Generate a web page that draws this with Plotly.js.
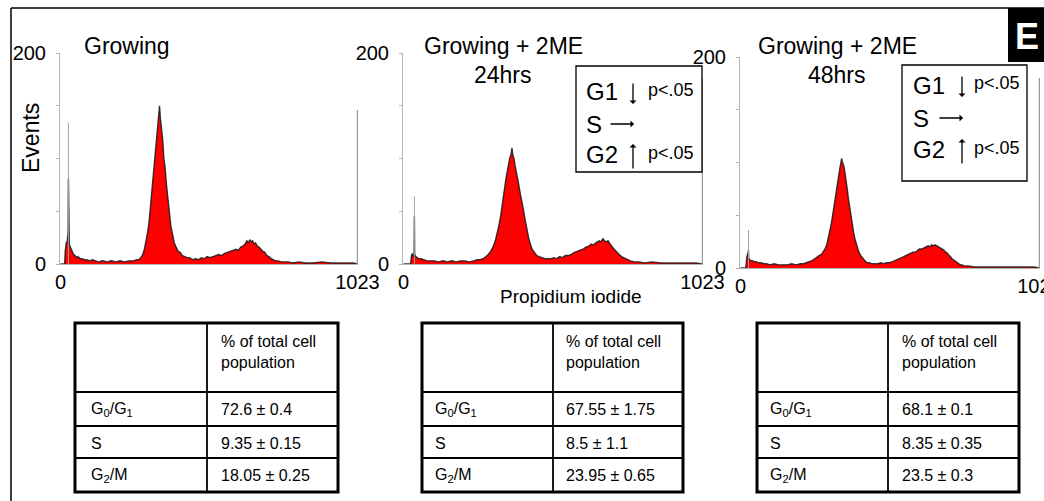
<!DOCTYPE html>
<html>
<head>
<meta charset="utf-8">
<script src="https://cdn.plot.ly/plotly-3.0.1.min.js"></script>
<style>html,body{margin:0;padding:0;background:#fff;}#chart{width:1044px;height:501px;}</style>
</head>
<body>
<div id="chart"></div>
<script>
// ---------------- DATA ----------------
// Panel 1: Growing (channel, events)
const growingChannels = [0,14,16,18,20,22,24,26,27,28,30,32,36,40,45,50,55,60,68,75,83,90,100,110,120,130,145,160,175,190,205,220,235,250,262,270,276,282,288,294,300,305,310,315,320,325,330,334,338,341,344,348,352,356,360,365,370,375,380,386,392,398,405,412,420,428,436,445,455,465,475,485,495,505,515,525,535,545,555,565,575,585,595,605,613,621,629,636,642,647,652,657,662,667,672,678,684,690,697,704,711,718,726,734,742,750,760,772,785,800,820,845,870,900,930,960,990,1010,1023];
const growingEvents   = [0,0,12,17,21,19,23,30,81,26,19,17,14,11,9,8,6,7,5,5,4,4,3,4,3,2,3,2,3,2,3,2,3,3,4,4,6,8,13,20,30,40,55,68,82,95,112,125,140,150,138,128,118,100,92,75,60,48,36,28,20,16,12,11,8,7,6,6,4,5,4,6,5,7,6,7,8,9,8,10,11,12,13,14,13,16,17,19,22,20,23,21,22,19,20,17,16,14,12,11,8,7,5,4,3,3,2,2,2,1,2,1,1,2,1,1,1,1,0];
// Panel 2: Growing + 2ME 24hrs
const me24Channels = [0,24,27,30,33,36,37,38,42,46,52,60,70,80,90,105,120,135,150,165,180,195,210,225,240,252,262,272,282,290,298,306,314,320,326,332,338,344,350,355,360,364,368,371,374,378,382,386,390,395,400,405,410,416,422,428,434,440,448,456,464,474,484,494,504,514,524,534,544,554,564,574,584,594,604,614,624,634,642,650,658,664,670,676,682,688,694,700,706,712,718,724,730,738,746,754,764,776,790,805,825,850,880,910,940,970,1000,1023];
const me24Events   = [0,0,8,10,7,9,45,9,7,6,5,5,4,3,3,3,2,3,2,3,2,3,3,2,3,4,4,5,7,9,12,16,22,28,36,45,58,70,80,88,96,101,104,110,103,100,93,88,80,74,66,60,52,42,33,25,19,14,11,8,7,6,5,5,5,6,5,7,6,8,8,9,11,12,13,14,16,17,19,18,20,21,22,21,24,22,21,22,19,17,15,13,11,9,7,6,4,3,2,2,1,2,1,1,1,1,1,0];
// Panel 3: Growing + 2ME 48hrs
const me48Channels = [0,18,21,24,26,27,28,31,35,40,46,52,60,70,80,90,100,115,130,145,160,175,190,205,215,225,235,245,255,263,270,277,283,289,295,300,305,310,314,318,322,326,330,334,337,340,343,346,348,351,354,357,360,363,366,369,372,376,380,384,388,392,396,400,405,411,418,425,433,441,450,460,470,480,490,500,510,520,530,538,546,553,560,568,575,582,590,598,605,612,620,628,635,642,648,654,660,666,672,678,684,690,696,702,708,713,718,723,728,734,740,746,752,758,765,780,800,830,860,890,920,950,980,1005,1023];
const me48Events   = [0,0,10,12,15,17,9,8,7,7,6,6,5,5,4,4,3,4,3,3,3,4,3,4,4,5,6,7,9,11,12,13,15,18,22,28,34,41,48,56,64,71,78,85,90,95,99,104,101,99,96,91,86,80,73,66,60,52,44,37,32,27,23,19,15,12,9,7,5,5,4,4,4,5,4,5,5,6,7,8,9,10,11,12,13,14,15,15,17,18,18,19,20,21,20,22,21,22,21,20,19,18,17,15,14,12,11,9,8,6,5,4,3,3,2,2,1,1,1,1,1,1,1,1,0];

// Gray debris spikes [channel, events] and end-channel (1023) pile-up events
const debrisSpikes = [[27,134],[37,64],[27,36]];
const endSpikeEvents = [146,176,180];

// Tick labels
const xTickVals = [0,1023];
const xTickText = ['0','1023'];
const yTickVals = [0,50,100,150,200];
const yTickText = ['0','','','','200'];

// Titles
const panelTitles = [['Growing'],['Growing + 2ME','24hrs'],['Growing + 2ME','48hrs']];

// Tables
const phaseLabels = ['G<sub>0</sub>/G<sub>1</sub>','S','G<sub>2</sub>/M'];
const tableHeader = '% of total cell<br>population';
const growingValues = ['72.6 ± 0.4','9.35 ± 0.15','18.05 ± 0.25'];
const me24Values = ['67.55 ± 1.75','8.5 ± 1.1','23.95 ± 0.65'];
const me48Values = ['68.1 ± 0.1','8.35 ± 0.35','23.5 ± 0.3'];

// Change boxes: phase, direction (down / flat / up), significance
const changePhase = ['G1', 'S', 'G2'];
const changeDir = ['down', 'flat', 'up'];
const changeP = ['p&lt;.05', '', 'p&lt;.05'];

// ---------------- LAYOUT HELPERS ----------------
const W = 1044, H = 501;
const FONT = 'Liberation Sans, Arial, Helvetica, sans-serif';
const px = v => v / W;
const py = v => 1 - v / H;

const panels = [
  {ch: growingChannels, ev: growingEvents, xd:[60,358], yd:[264,53]},
  {ch: me24Channels, ev: me24Events, xd:[403,703], yd:[264,53]},
  {ch: me48Channels, ev: me48Events, xd:[740,1040], yd:[268,57]}
];

const traces = [];
const layout = {
  width: W, height: H,
  margin: {l:0, r:0, t:0, b:0},
  paper_bgcolor: '#fff', plot_bgcolor: 'rgba(0,0,0,0)',
  showlegend: false,
  font: {family: FONT, color: '#000'},
  shapes: [], annotations: []
};

panels.forEach((p, i) => {
  const n = i + 1;
  const xa = n === 1 ? 'x' : 'x' + n;
  const ya = n === 1 ? 'y' : 'y' + n;
  traces.push({
    type: 'scatter', mode: 'lines', x: p.ch, y: p.ev, xaxis: xa, yaxis: ya,
    fill: 'tozeroy', fillcolor: '#ff0000',
    line: {color: 'rgba(25,25,25,0.85)', width: 1.4}, hoverinfo: 'skip'
  });
  traces.push({
    type: 'scatter', mode: 'lines', x: [debrisSpikes[i][0], debrisSpikes[i][0]], y: [0, debrisSpikes[i][1]],
    xaxis: xa, yaxis: ya, line: {color: '#a0a0a0', width: 1}, hoverinfo: 'skip'
  });
  traces.push({
    type: 'scatter', mode: 'lines', x: [1023, 1023], y: [0, endSpikeEvents[i]],
    xaxis: xa, yaxis: ya, line: {color: '#9a9a9a', width: 1.3}, hoverinfo: 'skip'
  });
  const axKey = n === 1 ? '' : String(n);
  layout['xaxis' + axKey] = {
    domain: [px(p.xd[0]), px(p.xd[1])], anchor: ya, range: [-2, 1025],
    showline: true, linecolor: '#b5b5b5', linewidth: 1, mirror: false,
    showgrid: false, zeroline: false, ticks: '', ticklabeloverflow: 'allow',
    tickvals: xTickVals, ticktext: xTickText, tickangle: 0,
    tickfont: {size: 20, family: FONT, color: '#000'}, fixedrange: true
  };
  layout['yaxis' + axKey] = {
    domain: [py(p.yd[0]), py(p.yd[1])], anchor: xa, range: [0, 200],
    showline: true, linecolor: '#b5b5b5', linewidth: 1,
    showgrid: false, zeroline: false, ticks: 'outside', ticklen: 3, tickcolor: '#b5b5b5',
    tickvals: yTickVals, ticktext: yTickText, ticklabelstandoff: 6, ticklabeloverflow: 'allow',
    tickfont: {size: 20, family: FONT, color: '#000'}, fixedrange: true
  };
});

// Panel titles
const titlePos = [
  {x: 82, y: [46], anchor: 'left'},
  {x: 503, y: [46, 75], anchor: 'center'},
  {x: 837, y: [46, 75], anchor: 'center'}
];
panelTitles.forEach((lines, i) => {
  lines.forEach((t, j) => {
    layout.annotations.push({
      xref: 'paper', yref: 'paper', x: px(titlePos[i].x), y: py(titlePos[i].y[j]),
      xanchor: titlePos[i].anchor, yanchor: 'middle', text: t, showarrow: false,
      font: {size: 23, family: FONT, color: '#000'}
    });
  });
});

// Axis titles
layout.annotations.push({
  xref: 'paper', yref: 'paper', x: px(31), y: py(138), text: 'Events', textangle: -90,
  showarrow: false, xanchor: 'center', yanchor: 'middle', font: {size: 23, family: FONT}
});
layout.annotations.push({
  xref: 'paper', yref: 'paper', x: px(571), y: py(296), text: 'Propidium iodide',
  showarrow: false, xanchor: 'center', yanchor: 'middle', font: {size: 19, family: FONT}
});

// Change boxes (panels 2 and 3)
const boxes = [
  {x0: 576, x1: 702, y0: 66, y1: 172, tx: 584, ty: [92, 124, 155], ax: 633, pxs: 646},
  {x0: 902, x1: 1027, y0: 65, y1: 181, tx: 911, ty: [85, 118, 150], ax: 962, pxs: 972}
];
boxes.forEach(b => {
  layout.shapes.push({type: 'rect', xref: 'paper', yref: 'paper', x0: px(b.x0), x1: px(b.x1), y0: py(b.y0), y1: py(b.y1),
    line: {color: '#000', width: 1.3}, fillcolor: '#fff', layer: 'above'});
  changePhase.forEach((ph, k) => {
    layout.annotations.push({xref: 'paper', yref: 'paper', x: px(b.tx), y: py(b.ty[k]), xanchor: 'left', yanchor: 'middle',
      text: ph, showarrow: false, font: {size: 24, family: FONT, color: '#000'}});
    if (changeP[k]) {
      layout.annotations.push({xref: 'paper', yref: 'paper', x: px(b.pxs), y: py(b.ty[k] - 2), xanchor: 'left', yanchor: 'middle',
        text: changeP[k], showarrow: false, font: {size: 18, family: FONT, color: '#000'}});
    }
    // arrow glyph drawn as annotation arrow
    let tip, tail;
    if (changeDir[k] === 'down') { tip = [b.ax, b.ty[k] + 12]; tail = [b.ax, b.ty[k] - 10]; }
    else if (changeDir[k] === 'up') { tip = [b.ax, b.ty[k] - 11]; tail = [b.ax, b.ty[k] + 15]; }
    else { tip = [b.ax + 1, b.ty[k]]; tail = [b.ax - 24, b.ty[k]]; }
    layout.annotations.push({xref: 'paper', yref: 'paper', x: px(tip[0]), y: py(tip[1]), text: '',
      showarrow: true, arrowhead: 1, arrowsize: 0.9, arrowwidth: 1.3, arrowcolor: '#000',
      ax: tail[0] - tip[0], ay: tail[1] - tip[1], standoff: 0, startstandoff: 0});
  });
});

// Tables
const tables = [
  {vals: growingValues, x0: 75, x1: 338, xm: 207, lx: 89, vx: 219},
  {vals: me24Values, x0: 422, x1: 683, xm: 553, lx: 433, vx: 564},
  {vals: me48Values, x0: 757, x1: 1019, xm: 888, lx: 768, vx: 900}
];
const tTop = 323, tBot = 492, rowLines = [392, 426, 458], rowY = [409, 443, 475];
tables.forEach(t => {
  layout.shapes.push({type: 'rect', xref: 'paper', yref: 'paper', x0: px(t.x0), x1: px(t.x1), y0: py(tTop), y1: py(tBot),
    line: {color: '#000', width: 3}});
  layout.shapes.push({type: 'line', xref: 'paper', yref: 'paper', x0: px(t.xm), x1: px(t.xm), y0: py(tTop), y1: py(tBot),
    line: {color: '#000', width: 1.8}});
  rowLines.forEach(r => layout.shapes.push({type: 'line', xref: 'paper', yref: 'paper', x0: px(t.x0), x1: px(t.x1), y0: py(r), y1: py(r),
    line: {color: '#000', width: 1.8}}));
  layout.annotations.push({xref: 'paper', yref: 'paper', x: px(t.vx), y: py(352), xanchor: 'left', yanchor: 'middle', align: 'left',
    text: tableHeader, showarrow: false, font: {size: 16, family: FONT}});
  phaseLabels.forEach((lab, k) => {
    layout.annotations.push({xref: 'paper', yref: 'paper', x: px(t.lx), y: py(rowY[k]), xanchor: 'left', yanchor: 'middle',
      text: lab, showarrow: false, font: {size: 16, family: FONT}});
    layout.annotations.push({xref: 'paper', yref: 'paper', x: px(t.vx), y: py(rowY[k]), xanchor: 'left', yanchor: 'middle',
      text: t.vals[k], showarrow: false, font: {size: 16, family: FONT}});
  });
});

// Figure frame (left & top) and panel letter
layout.shapes.push({type: 'line', xref: 'paper', yref: 'paper', x0: px(11), x1: px(11), y0: py(8), y1: 0, line: {color: '#000', width: 1.5}});
layout.shapes.push({type: 'line', xref: 'paper', yref: 'paper', x0: px(11), x1: 1, y0: py(8), y1: py(8), line: {color: '#000', width: 1.5}});
layout.shapes.push({type: 'rect', xref: 'paper', yref: 'paper', x0: px(1008), x1: 1, y0: py(8), y1: py(62), fillcolor: '#000', line: {width: 0}});
layout.annotations.push({xref: 'paper', yref: 'paper', x: px(1027), y: py(37), xanchor: 'center', yanchor: 'middle',
  text: '<b>E</b>', showarrow: false, font: {size: 36, family: FONT, color: '#fff'}});

Plotly.newPlot('chart', traces, layout, {staticPlot: true, displayModeBar: false});
</script>
</body>
</html>
